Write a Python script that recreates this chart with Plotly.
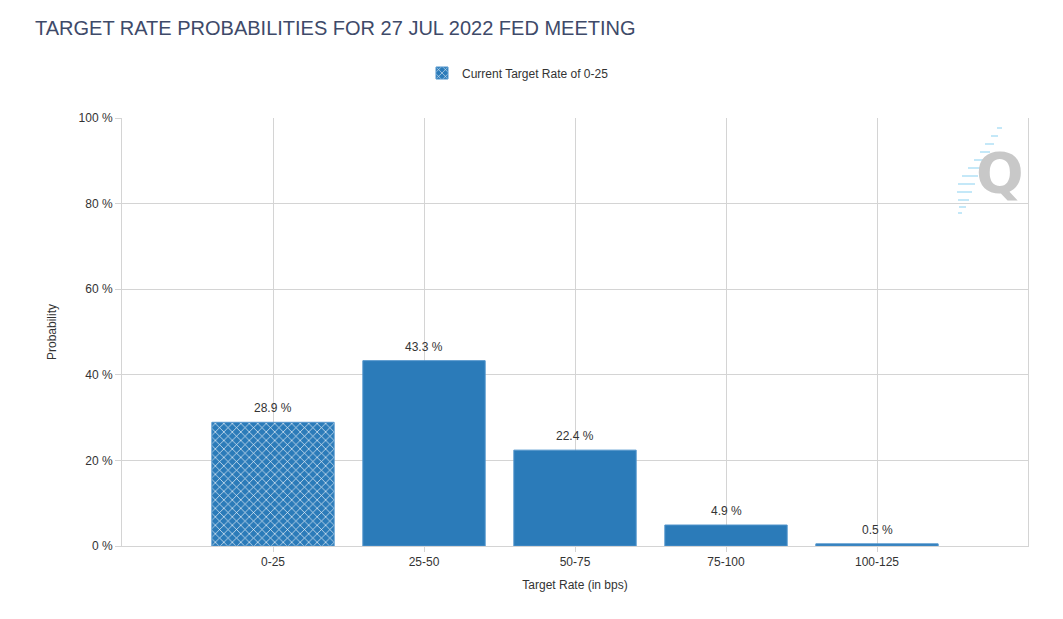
import plotly.graph_objects as go

categories = ["0-25", "25-50", "50-75", "75-100", "100-125"]
probabilities = [28.9, 43.3, 22.4, 4.9, 0.5]
current_index = 0
legend_label = "Current Target Rate of 0-25"
y_ticks = [0, 20, 40, 60, 80, 100]
y_tick_text = [f"{v} %" for v in y_ticks]

# the page body has an 8px margin; lay out in reference pixel coords minus 8
OFF = 8
W, H = 1063 - OFF, 619 - OFF
L, R, T, B = 122 - OFF, 35, 118 - OFF, 73
BLUE = "#2b7bb9"
EDGE = "#4f93cb"
GRID = "#d4d4d4"
TXT = "#333333"
FONT = "Liberation Sans, Arial, sans-serif"

pw = W - L - R
ph = H - T - B


def px_x(x):
    return (x - OFF - L) / pw


def px_y(y):
    return 1 - (y - OFF - T) / ph


fig = go.Figure()

fig.add_trace(go.Bar(
    x=[categories[current_index]], y=[probabilities[current_index]],
    name=legend_label, showlegend=True, width=0.81,
    marker=dict(color=BLUE, line=dict(color=EDGE, width=1),
                pattern=dict(shape="x", fgcolor="white", bgcolor=BLUE,
                             size=6, solidity=0.2, fillmode="replace")),
))

others_x = [c for i, c in enumerate(categories) if i != current_index]
others_y = [v for i, v in enumerate(probabilities) if i != current_index]
fig.add_trace(go.Bar(
    x=others_x, y=others_y, showlegend=False, width=0.81,
    marker=dict(color=BLUE, line=dict(color=EDGE, width=1)),
))

annotations = []
for c, v in zip(categories, probabilities):
    annotations.append(dict(x=c, y=v, xref="x", yref="y", text=f"{v:.1f} %",
                            showarrow=False, xanchor="center", yanchor="bottom",
                            yshift=5, font=dict(size=12, color=TXT, family=FONT)))

# watermark logo
annotations.append(dict(text="<b>Q</b>", xref="paper", yref="paper",
                        x=px_x(1000), y=px_y(172), xanchor="center", yanchor="middle",
                        showarrow=False,
                        font=dict(size=56, color="#c8c8c8", family="DejaVu Sans, Arial")))

shapes = []
streak = [(1002, 128, 5), (998, 136, 7), (994, 144, 9), (990, 152, 10), (986, 160, 12),
          (982, 168, 14), (978, 176, 16), (975, 184, 17), (972, 192, 15), (969, 200, 11),
          (966, 207, 7), (962, 213, 4)]
for (px, py, ln) in streak:
    shapes.append(dict(type="line", xref="paper", yref="paper",
                       x0=px_x(px - ln), x1=px_x(px), y0=px_y(py), y1=px_y(py),
                       line=dict(color="#c4e8f8", width=2), layer="above"))

fig.update_layout(
    width=W, height=H,
    margin=dict(l=L, r=R, t=T, b=B),
    paper_bgcolor="white", plot_bgcolor="white",
    barmode="overlay",
    font=dict(family=FONT, size=12, color=TXT),
    title=dict(text="TARGET RATE PROBABILITIES FOR 27 JUL 2022 FED MEETING",
               x=(35 - OFF) / W, xanchor="left", xref="container",
               y=1 - (28 - OFF) / H, yanchor="middle", yref="container",
               font=dict(family="Liberation Sans Narrow, Arial Narrow, " + FONT,
                         size=20, color="#3e4a69")),
    legend=dict(orientation="h", xref="container", x=(422 - OFF) / W, xanchor="left",
                yref="container", y=1 - (73 - OFF) / H, yanchor="middle",
                font=dict(size=12, color=TXT, family=FONT), itemwidth=30),
    xaxis=dict(
        categoryorder="array", categoryarray=categories,
        range=[-1, len(categories)],
        showgrid=True, gridcolor=GRID, gridwidth=1,
        showline=True, linecolor=GRID, linewidth=1,
        ticks="outside", ticklen=5, tickcolor=GRID,
        tickfont=dict(size=12, color=TXT),
        title=dict(text="Target Rate (in bps)", font=dict(size=12, color=TXT), standoff=12),
        zeroline=False, fixedrange=True,
    ),
    yaxis=dict(
        range=[0, 100], tickmode="array", tickvals=y_ticks, ticktext=y_tick_text,
        showgrid=True, gridcolor=GRID, gridwidth=1,
        showline=True, mirror=True, linecolor=GRID, linewidth=1,
        ticks="outside", ticklen=6, tickcolor=GRID,
        tickfont=dict(size=12, color=TXT),
        title=dict(text="Probability", font=dict(size=12, color=TXT), standoff=19),
        zeroline=False, fixedrange=True,
    ),
    shapes=shapes,
    annotations=annotations,
)

fig.write_html("out.html")
